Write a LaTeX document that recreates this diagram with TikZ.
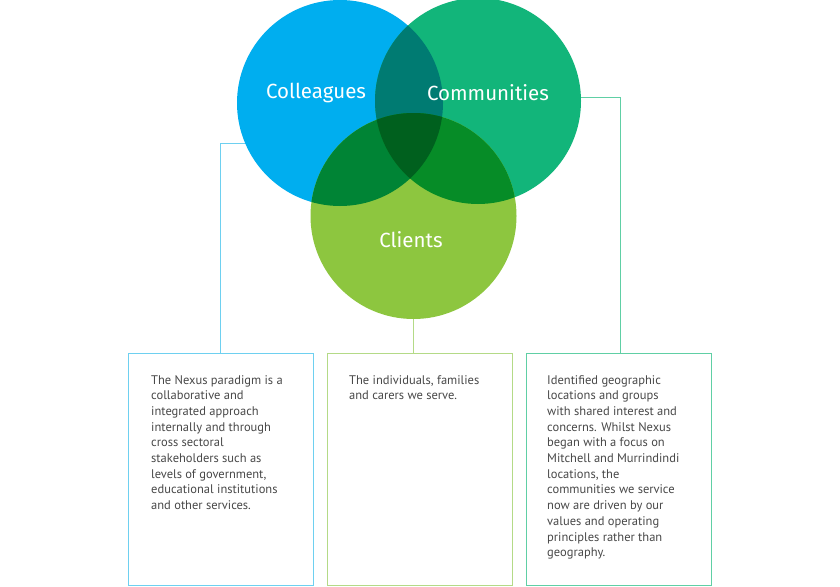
\documentclass[tikz,border=0pt]{standalone}
\usepackage{fontspec}
\setmainfont{PT Sans}
\newfontfamily\labelfont{Fira Sans}
\definecolor{cblue}{RGB}{0,174,239}
\definecolor{ccomm}{RGB}{18,181,122}
\definecolor{ccli}{RGB}{141,198,63}
\definecolor{cbc}{RGB}{0,123,114}
\definecolor{cbl}{RGB}{0,132,53}
\definecolor{ccl}{RGB}{6,140,39}
\definecolor{call}{RGB}{0,96,30}
\definecolor{lblue}{RGB}{110,208,240}
\definecolor{lgreen}{RGB}{180,218,135}
\definecolor{lteal}{RGB}{96,207,165}
\definecolor{txt}{RGB}{72,72,72}
\tikzset{
  venn/.style={circle, minimum size=206pt, inner sep=0pt},
  vlabel/.style={font=\labelfont\fontsize{20.5}{24}\selectfont, text=white, inner sep=0pt},
  infobox/.style={draw, line width=0.8pt, minimum width=185pt, minimum height=232pt, inner sep=0pt},
  infotext/.style={anchor=north west, align=left, inner sep=0pt, text=txt, font=\fontsize{12.5}{15.7}\selectfont},
  conn/.style={line width=0.8pt}
}
\begin{document}
\begin{tikzpicture}[x=1pt,y=-1pt]
\useasboundingbox[fill=white] (0,0) rectangle (840,586);
% circles (geometry)
\node[venn] (col) at (340,103) {};
\node[venn] (com) at (478,101) {};
\node[venn] (cli) at (413.5,216) {};
% boxes
\node[infobox, draw=lblue] (lbox) at (220.5,469) {};
\node[infobox, draw=lgreen] (mbox) at (419.5,469) {};
\node[infobox, draw=lteal] (rbox) at (618.5,469) {};
% connectors
\coordinate (lc) at (220,143);
\coordinate (rc) at (620,97);
\draw[conn, lblue] (col.center |- lc) -- (lc) -- (lc |- lbox.north);
\draw[conn, lteal] (com.center |- rc) -- (rc) -- (rc |- rbox.north);
\draw[conn, lgreen] (cli.center) -- (cli.center |- mbox.north);
% fills
\fill[cblue] (col.center) circle (103);
\fill[ccomm] (com.center) circle (103);
\fill[ccli] (cli.center) circle (103);
\begin{scope}
  \clip (col.center) circle (103);
  \fill[cbc] (com.center) circle (103);
  \fill[cbl] (cli.center) circle (103);
\end{scope}
\begin{scope}
  \clip (com.center) circle (103);
  \fill[ccl] (cli.center) circle (103);
\end{scope}
\begin{scope}
  \clip (col.center) circle (103);
  \clip (com.center) circle (103);
  \fill[call] (cli.center) circle (103);
\end{scope}
% labels
\node[vlabel] (lcol) at (316,93) {Colleagues};
\node[vlabel] (lcom) at (488,93) {Communities};
\node[vlabel] (lcli) at (411,240) {Clients};
% texts
\node[infotext] (tl) at (151,375) {The Nexus paradigm is a\\collaborative and\\integrated approach\\internally and through\\cross sectoral\\stakeholders such as\\levels of government,\\educational institutions\\and other services.};
\node[infotext] (tm) at (349,375) {The individuals, families\\and carers we serve.};
\node[infotext] (tr) at (547,375) {Identified geographic\\locations and groups\\with shared interest and\\concerns. Whilst Nexus\\began with a focus on\\Mitchell and Murrindindi\\locations, the\\communities we service\\now are driven by our\\values and operating\\principles rather than\\geography.};
\end{tikzpicture}
\end{document}
